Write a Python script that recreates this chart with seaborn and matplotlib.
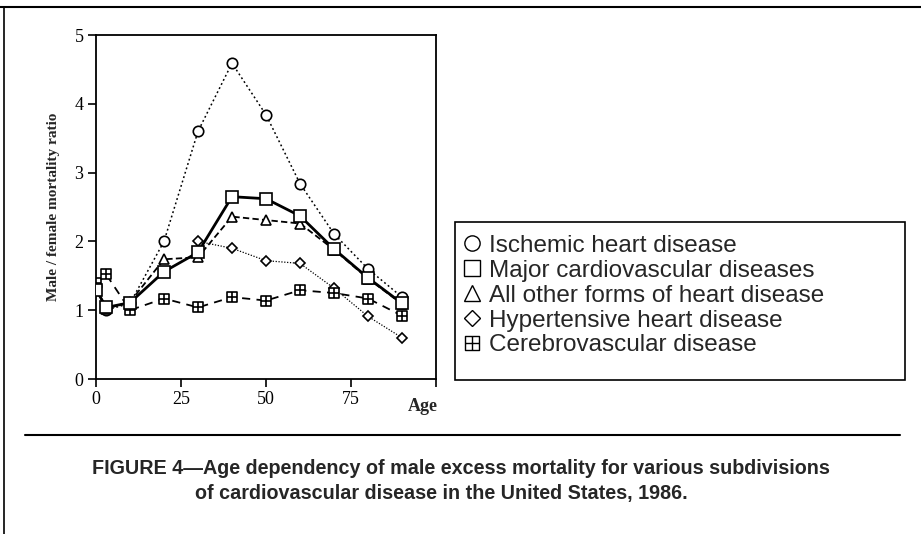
import numpy as np
import matplotlib
matplotlib.use("Agg")
import matplotlib.pyplot as plt
import seaborn as sns
from matplotlib.path import Path
from matplotlib.lines import Line2D
from matplotlib.patches import Rectangle

# --- data ---
ages = [0, 3, 10, 20, 30, 40, 50, 60, 70, 80, 90]
ischemic = [1.35, 1.00, 1.10, 2.00, 3.60, 4.59, 3.84, 2.84, 2.11, 1.60, 1.19]
major_cvd = [1.30, 1.04, 1.11, 1.56, 1.84, 2.65, 2.62, 2.37, 1.89, 1.47, 1.10]
other_heart = [1.33, 1.02, 1.12, 1.74, 1.77, 2.36, 2.31, 2.26, 1.88, 1.46, 1.09]
hyp_ages = [30, 40, 50, 60, 70, 80, 90]
hypertensive = [2.00, 1.90, 1.72, 1.68, 1.32, 0.91, 0.60]
cerebro = [1.39, 1.52, 1.00, 1.17, 1.04, 1.19, 1.14, 1.29, 1.25, 1.17, 0.92]

labels = ["Ischemic heart disease", "Major cardiovascular diseases",
          "All other forms of heart disease", "Hypertensive heart disease",
          "Cerebrovascular disease"]

# square with a cross inside for the cerebrovascular marker
box_cross = Path(
    [(-1, -1), (1, -1), (1, 1), (-1, 1), (-1, -1), (0, -1), (0, 1), (-1, 0), (1, 0)],
    [Path.MOVETO, Path.LINETO, Path.LINETO, Path.LINETO, Path.CLOSEPOLY,
     Path.MOVETO, Path.LINETO, Path.MOVETO, Path.LINETO])

sns.set_style("ticks")
plt.rcParams['font.family'] = ['Liberation Serif', 'DejaVu Serif']

fig = plt.figure(figsize=(9.21, 5.34), dpi=100)
ax = fig.add_axes([96 / 921, 1 - 379 / 534, 340 / 921, 344 / 534])

mk = dict(markerfacecolor='white', markeredgecolor='black', markeredgewidth=1.2,
          color='black', legend=False)

sns.lineplot(x=ages, y=ischemic, ax=ax, marker='o', markersize=7.5, linewidth=1.1,
             linestyle=(0, (1.2, 1.8)), zorder=3, **mk)
sns.lineplot(x=ages, y=other_heart, ax=ax, marker='^', markersize=7.5, linewidth=1.3,
             linestyle=(0, (3.5, 1.8)), zorder=4, **mk)
sns.lineplot(x=hyp_ages, y=hypertensive, ax=ax, marker='D', markersize=5.5, linewidth=0.9,
             linestyle=(0, (1, 1.3)), zorder=3, **mk)
sns.lineplot(x=ages, y=cerebro, ax=ax, marker=box_cross, markersize=7, linewidth=1.3,
             linestyle=(0, (4.5, 3.5)), zorder=4, **mk)
sns.lineplot(x=ages, y=major_cvd, ax=ax, marker='s', markersize=8.5, linewidth=2.0,
             linestyle='-', zorder=5, **mk)

ax.set_xlim(0, 100)
ax.set_ylim(0, 5)
ax.set_xticks([0, 25, 50, 75, 100])
ax.set_xticklabels(['0', '25', '50', '75', ''])
ax.set_yticks([0, 1, 2, 3, 4, 5])
for s in ax.spines.values():
    s.set_linewidth(1.3)
    s.set_color('black')
ax.tick_params(direction='out', length=6, width=1.2, labelsize=13, colors='black', pad=3)
ax.set_xlabel('')
ax.set_ylabel('Male / female mortality ratio', fontsize=11, fontweight='bold', labelpad=10)
ax.text(96, -0.4, 'Age', fontsize=13, fontweight='bold', ha='center', va='center')

# legend in a framed box
handles = [Line2D([], [], linestyle='none', marker=m, markersize=ms, markerfacecolor='white',
                  markeredgecolor='black', markeredgewidth=1.0)
           for m, ms in [('o', 11), ('s', 11), ('^', 11), ('D', 8.5), (box_cross, 10)]]
fig.legend(handles, labels, loc='upper left', bbox_to_anchor=(450 / 921, 1 - 225 / 534),
           frameon=False, prop={'family': 'Liberation Sans', 'size': 17.5},
           handletextpad=0.2, labelspacing=0.12, handlelength=1.0, borderaxespad=0)
fig.add_artist(Rectangle((455 / 921, 1 - 380 / 534), 450 / 921, 158 / 534,
                         transform=fig.transFigure, fill=False, edgecolor='black', linewidth=1.2))

# page frame and caption rule
fig.add_artist(Line2D([0, 1], [1 - 7 / 534, 1 - 7 / 534], transform=fig.transFigure,
                      color='black', linewidth=1.5))
fig.add_artist(Line2D([4 / 921, 4 / 921], [0, 1 - 7 / 534], transform=fig.transFigure,
                      color='black', linewidth=1.2))
fig.add_artist(Line2D([25 / 921, 900 / 921], [1 - 435 / 534, 1 - 435 / 534],
                      transform=fig.transFigure, color='black', linewidth=1.5))

cap = dict(family='Liberation Sans', fontsize=14.2, fontweight='bold', va='center', ha='left')
fig.text(92 / 921, 1 - 468 / 534,
         'FIGURE 4\u2014Age dependency of male excess mortality for various subdivisions', **cap)
fig.text(195 / 921, 1 - 493 / 534,
         'of cardiovascular disease in the United States, 1986.', **cap)

fig.savefig('out.png', dpi=100)
